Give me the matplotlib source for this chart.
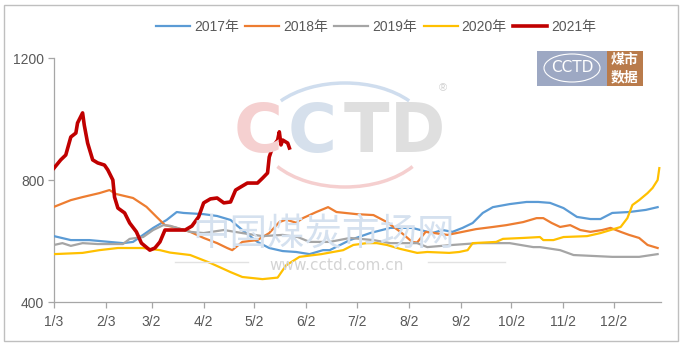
import matplotlib.pyplot as plt
from matplotlib.patches import Arc, Rectangle
from matplotlib.lines import Line2D

plt.rcParams['font.family'] = ['Liberation Sans', 'Noto Sans CJK SC', 'DejaVu Sans']

# ---- price series, x = day of year ----
days_2017 = [3, 13, 24, 36, 44, 50, 56, 62, 70, 76, 80, 92, 100, 108, 115, 124, 131, 139, 147, 155,
             163, 167, 179, 191, 203, 216, 228, 234, 240, 246, 252, 258, 264, 274, 284, 291, 298, 306,
             314, 322, 328, 335, 345, 355, 362]
price_2017 = [616, 603, 603, 597, 593, 597, 620, 643, 669, 695, 692, 688, 682, 669, 636, 597, 577, 567,
              564, 557, 570, 570, 603, 626, 643, 643, 626, 636, 630, 643, 659, 692, 711, 721, 728, 728,
              725, 708, 679, 672, 672, 692, 695, 702, 711]

days_2018 = [3, 13, 20, 30, 36, 40, 50, 58, 64, 69, 76, 84, 92, 100, 106, 109, 115, 124, 131, 137,
             141, 147, 151, 159, 166, 171, 183, 193, 201, 209, 216, 219, 224, 237, 246, 254, 264, 272,
             282, 290, 294, 299, 304, 310, 316, 322, 329, 334, 340, 345, 351, 356, 362]
price_2018 = [712, 734, 744, 757, 767, 754, 741, 712, 679, 652, 643, 630, 610, 593, 577, 570, 597, 603,
              626, 662, 670, 660, 675, 695, 711, 695, 688, 685, 662, 630, 597, 595, 630, 620, 630, 639,
              646, 652, 662, 675, 675, 659, 646, 652, 636, 630, 636, 643, 630, 620, 610, 587, 577]

days_2019 = [3, 8, 13, 20, 29, 36, 44, 48, 56, 62, 68, 72, 84, 92, 104, 115, 127, 139, 148, 155,
             167, 179, 193, 203, 219, 225, 240, 255, 274, 288, 292, 304, 312, 335, 351, 362]
price_2019 = [587, 593, 584, 593, 590, 590, 590, 607, 613, 636, 652, 650, 630, 626, 636, 626, 616, 620,
              613, 597, 597, 610, 603, 593, 593, 580, 587, 593, 593, 580, 580, 570, 554, 548, 548, 557]

days_2020 = [3, 20, 30, 41, 56, 66, 72, 84, 96, 108, 115, 127, 136, 141, 149, 162, 175, 181, 189, 195,
             201, 209, 219, 225, 238, 244, 249, 252, 266, 270, 282, 292, 294, 300, 306, 320, 328, 334,
             340, 344, 347, 351, 356, 359, 362, 363]
price_2020 = [557, 561, 570, 577, 577, 570, 562, 554, 528, 498, 482, 475, 480, 520, 548, 557, 570, 587,
              593, 593, 587, 574, 561, 564, 561, 564, 570, 593, 597, 607, 610, 613, 603, 603, 613, 616,
              626, 636, 646, 675, 718, 734, 757, 774, 800, 839]

days_2021 = [3, 7, 10, 13, 16, 17, 20, 21, 23, 26, 29, 33, 35, 38, 39, 41, 45, 48, 52, 55, 60, 63, 66,
             69, 74, 81, 85, 89, 92, 96, 100, 104, 108, 111, 114, 118, 124, 127, 130, 131, 133, 136,
             137, 138, 139, 142, 143]
price_2021 = [839, 866, 882, 941, 954, 987, 1020, 980, 921, 866, 856, 849, 833, 800, 744, 708, 692, 659,
              630, 593, 570, 577, 597, 636, 636, 636, 649, 679, 725, 738, 741, 725, 728, 767, 777, 790,
              790, 806, 823, 875, 908, 931, 958, 915, 931, 921, 905]

tick_days = [3, 34, 61, 92, 122, 153, 183, 214, 245, 275, 306, 336]
tick_labels = ['1/3', '2/3', '3/2', '4/2', '5/2', '6/2', '7/2', '8/2', '9/2', '10/2', '11/2', '12/2']

series = [
    ('2017年', days_2017, price_2017, '#5B9BD5', 1.6),
    ('2018年', days_2018, price_2018, '#ED7D31', 1.6),
    ('2019年', days_2019, price_2019, '#A5A5A5', 1.6),
    ('2020年', days_2020, price_2020, '#FFC000', 1.6),
    ('2021年', days_2021, price_2021, '#C00000', 2.6),
]

W, H = 684, 346
fig = plt.figure(figsize=(W / 100, H / 100), dpi=100)
inch = fig.dpi_scale_trans


def px(x, y):
    # pixel position (from top-left) -> inches from bottom-left
    return x / 100, (H - y) / 100


# outer frame
fig.add_artist(Rectangle(px(4, 341), 674 / 100, 336 / 100, transform=inch,
                         fill=False, edgecolor='#BFBFBF', lw=1))

ax = fig.add_axes([54 / W, 1 - 302 / H, (661 - 54) / W, (302 - 58) / H])

# ---- watermark ----
for ch, cx, col in [('C', 258, '#F5D0D0'), ('C', 312, '#D6E0EC'),
                    ('T', 366, '#DFDFDF'), ('D', 418, '#DFDFDF')]:
    fig.text(cx / W, 1 - 133 / H, ch, fontsize=48, color=col, ha='center', va='center',
             family='DejaVu Sans', fontweight='bold', zorder=0)
fig.add_artist(Arc(px(345, 135), 1.70, 1.04, theta1=28, theta2=152, transform=inch,
                   color='#CFDDEE', lw=2.5, zorder=0))
fig.add_artist(Arc(px(345, 135), 1.70, 1.04, theta1=205, theta2=335, transform=inch,
                   color='#F5CFCF', lw=2.5, zorder=0))
fig.text(443 / W, 1 - 88 / H, '®', fontsize=8, color='#D0D0D0', ha='center', va='center')
fig.text(324 / W, 1 - 235 / H, '中国煤炭市场网', fontsize=27, color='#D5E1EF',
         ha='center', va='center', family='Noto Sans CJK SC', zorder=0)
fig.text(337 / W, 1 - 265 / H, 'www.cctd.com.cn', fontsize=11, color='#D4D4D4',
         ha='center', va='center', family='DejaVu Sans', zorder=0)
for x0, x1 in [(175, 248), (428, 505)]:
    fig.add_artist(Line2D([x0 / W, x1 / W], [1 - 262 / H] * 2, color='#E2E2E2', lw=1))

# ---- price lines ----
for name, d, p, col, lw in series:
    ax.plot(d, p, color=col, lw=lw, label=name, solid_joinstyle='round', zorder=3)

ax.set_xlim(3, 364)
ax.set_ylim(400, 1200)
ax.set_yticks([400, 800, 1200])
ax.set_xticks(tick_days)
ax.set_xticklabels(tick_labels)
ax.patch.set_alpha(0)
for s in ['top', 'right']:
    ax.spines[s].set_visible(False)
for s in ['left', 'bottom']:
    ax.spines[s].set_color('#A6A6A6')
    ax.spines[s].set_linewidth(0.9)
ax.tick_params(axis='both', colors='#A6A6A6', labelcolor='#595959', labelsize=10,
               length=4, width=0.9)
ax.tick_params(axis='x', pad=5)
ax.tick_params(axis='y', pad=3)

fig.legend(loc='center', bbox_to_anchor=(376 / W, 1 - 27 / H), ncol=5, frameon=False,
           fontsize=10, handlelength=2.45, handletextpad=0.3, columnspacing=0.45,
           labelcolor='#595959')

# ---- corner logo ----
fig.add_artist(Rectangle(px(537, 86), 0.70, 0.35, transform=inch, facecolor='#9DA8C3',
                         edgecolor='none'))
fig.add_artist(Rectangle(px(607, 86), 0.36, 0.35, transform=inch, facecolor='#B97B4B',
                         edgecolor='none'))
fig.add_artist(Arc(px(572, 68), 0.56, 0.28, transform=inch, color='white', lw=0.8))
fig.text(572 / W, 1 - 68 / H, 'CCTD', fontsize=11, color='white', ha='center', va='center',
         family='DejaVu Sans')
fig.text(625 / W, 1 - 60 / H, '煤市', fontsize=10, color='white', ha='center', va='center',
         family='Noto Sans CJK SC', fontweight='bold')
fig.text(625 / W, 1 - 77 / H, '数据', fontsize=10, color='white', ha='center', va='center',
         family='Noto Sans CJK SC', fontweight='bold')

fig.savefig('out.png', dpi=100)
